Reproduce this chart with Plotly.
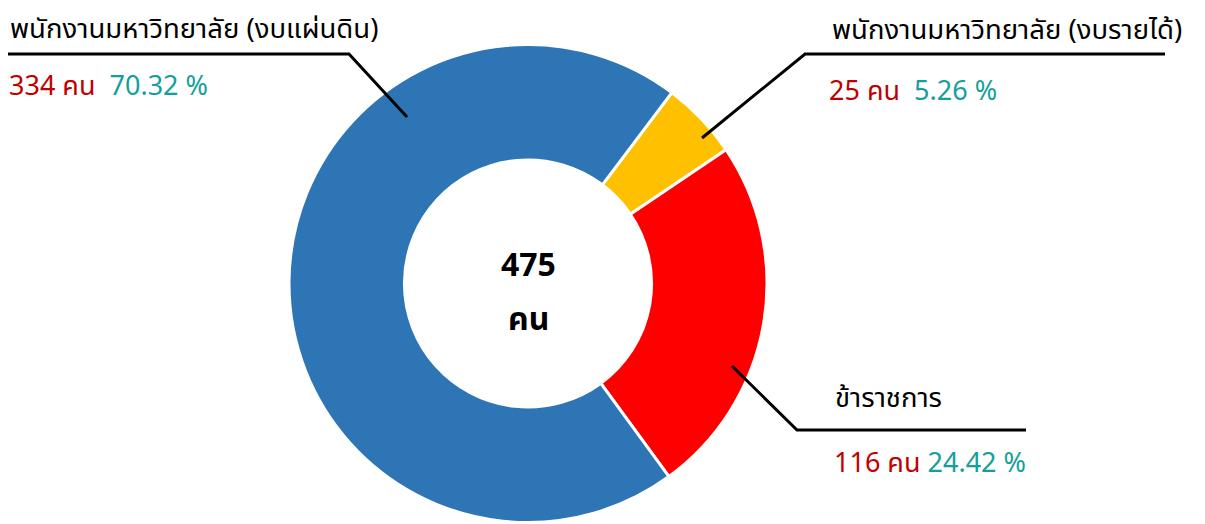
import plotly.graph_objects as go

W, H = 1205, 524

categories = ["พนักงานมหาวิทยาลัย (งบรายได้)", "ข้าราชการ", "พนักงานมหาวิทยาลัย (งบแผ่นดิน)"]
counts = [25, 116, 334]
percents = ["5.26 %", "24.42 %", "70.32 %"]
colors = ["#FFC000", "#FF0000", "#2E75B6"]
total_label = ["475", "คน"]

FONT = "Noto Sans Thai, Noto Sans, sans-serif"
RED = "#C00000"
TEAL = "#14A09A"

OFF = 8  # page body margin offset

def px(x):
    return (x - OFF) / W

def py(y):
    return 1 - (y - OFF) / H

cx, cy, R = 528, 283.5, 239

fig = go.Figure(go.Pie(
    labels=categories,
    values=counts,
    marker=dict(colors=colors, line=dict(color="white", width=3)),
    hole=0.517,
    sort=False,
    direction="clockwise",
    rotation=37,
    textinfo="none",
    hoverinfo="label+value+percent",
    showlegend=False,
    domain=dict(x=[px(cx - R), px(cx + R)], y=[py(cy + R), py(cy - R)]),
))

TS, VS = 27.5, 27
annotations = []
# Titles
annotations.append(dict(x=px(9), y=py(29), text=categories[2], xanchor="left", yanchor="middle",
                        font=dict(size=TS, color="black", family=FONT)))
annotations.append(dict(x=px(831), y=py(31), text=categories[0], xanchor="left", yanchor="middle",
                        font=dict(size=TS, color="black", family=FONT)))
annotations.append(dict(x=px(834), y=py(398), text=categories[1], xanchor="left", yanchor="middle",
                        font=dict(size=TS, color="black", family=FONT)))
# Values
def vtext(i, gap="&nbsp;&nbsp;"):
    return (f"<span style='color:{RED}'>{counts[i]} คน</span>{gap}"
            f"<span style='color:{TEAL}'>{percents[i]}</span>")

annotations.append(dict(x=px(8), y=py(87), text=vtext(2), xanchor="left", yanchor="middle",
                        font=dict(size=VS, family=FONT)))
annotations.append(dict(x=px(828), y=py(92), text=vtext(0), xanchor="left", yanchor="middle",
                        font=dict(size=VS, family=FONT)))
annotations.append(dict(x=px(833), y=py(463), text=vtext(1, "&nbsp;"), xanchor="left", yanchor="middle",
                        font=dict(size=VS, family=FONT)))
# Center
annotations.append(dict(x=px(cx), y=py(266), text=f"<b>{total_label[0]}</b>", xanchor="center", yanchor="middle",
                        font=dict(size=32, color="black", family=FONT)))
annotations.append(dict(x=px(cx), y=py(320), text=f"<b>{total_label[1]}</b>", xanchor="center", yanchor="middle",
                        font=dict(size=32, color="black", family=FONT)))
for a in annotations:
    a.update(xref="paper", yref="paper", showarrow=False, borderpad=0)

line = dict(color="black", width=3)
shapes = [
    dict(type="path", path=f"M {px(8)},{py(54)} L {px(349)},{py(54)} L {px(407)},{py(117)}"),
    dict(type="path", path=f"M {px(1165)},{py(54)} L {px(805)},{py(54)} L {px(702)},{py(138)}"),
    dict(type="path", path=f"M {px(732)},{py(366)} L {px(797)},{py(430)} L {px(1026)},{py(430)}"),
]
for s in shapes:
    s.update(xref="paper", yref="paper", line=line)

fig.update_layout(
    width=W, height=H,
    margin=dict(l=0, r=0, t=0, b=0),
    paper_bgcolor="white", plot_bgcolor="white",
    annotations=annotations,
    shapes=shapes,
    font=dict(family=FONT),
)

fig.write_html("out.html")
